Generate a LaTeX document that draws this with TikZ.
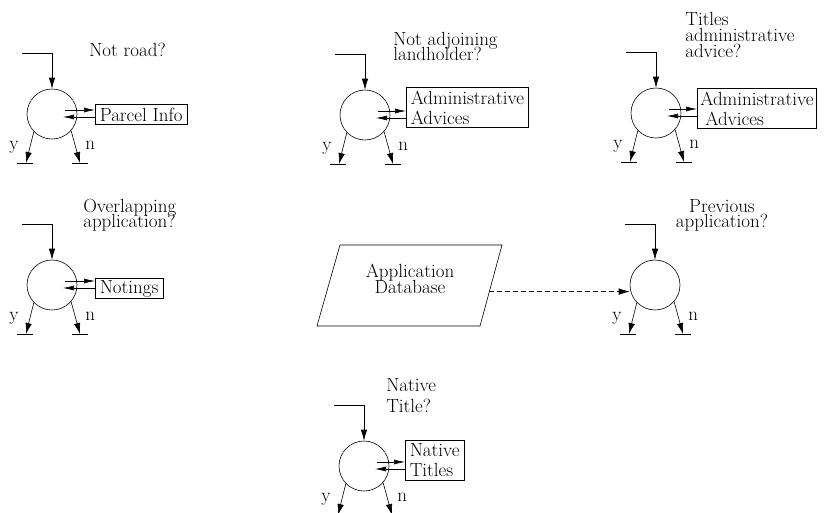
\documentclass[tikz,border=0pt]{standalone}
\usepackage{fontspec}
\usetikzlibrary{arrows.meta,calc}
% exact line spacing inside multi-line labels
\newcommand\tightlines{\lineskiplimit=-30pt\relax}
\begin{document}
\begin{tikzpicture}[x=1pt,y=-1pt,line width=0.6pt,
  dec/.style={circle,draw,minimum size=50pt,inner sep=0pt},
  lbl/.style={inner sep=0pt,anchor=base west,align=left,
    font=\fontsize{19}{#1}\selectfont\tightlines},
  lbl/.default=15,
  clbl/.style={inner sep=0pt,anchor=base,align=center,
    font=\fontsize{19}{#1}\selectfont\tightlines},
  clbl/.default=15,
  store/.style={draw,anchor=west,align=left,inner xsep=4.5pt,inner ysep=3.5pt,
    font=\fontsize{19}{20}\selectfont\tightlines},
  arr/.style={-{Latex[length=11pt,width=6.5pt]}},
  sarr/.style={-{Latex[length=11pt,width=5pt]}},
  flow/.style={dashed,dash pattern=on 5pt off 3pt}]
\useasboundingbox (0,0) rectangle (830,512);

% decision: circle with an incoming line, y/n exits and their ground bars
\newcommand\decblock[3]{%
  \node[dec] (#1) at (#2,#3) {};
  \coordinate (#1in) at ($(#1.north)+(-30,-35)$);
  \draw[arr] (#1in) -| (#1.north);
  \coordinate (#1y) at ($(#1.center)+(-26,49)$);
  \coordinate (#1n) at ($(#1.center)+(28,49)$);
  \draw[arr] (#1.-136) -- (#1y);
  \draw[arr] (#1.-41) -- (#1n);
  \draw ($(#1y)+(-9,0)$) -- ($(#1y)+(7,0)$);
  \draw ($(#1n)+(-8,0)$) -- ($(#1n)+(8,0)$);
  \node[lbl] (#1ylab) at ($(#1.center)+(-43,35)$) {y};
  \node[lbl] (#1nlab) at ($(#1.center)+(33,35)$) {n};
}
% query/answer pair between a decision and its data store
\newcommand\datalink[2]{%
  \path ($(#1.center)+(13,-4)$) coordinate (#1o)
        ($(#1.center)+(11,3)$) coordinate (#1i);
  \draw[sarr] (#1o) -- (#1o -| #2.west);
  \draw[sarr] (#1i -| #2.west) -- (#1i);
}

% not road
\decblock{d1}{52}{114}
\node[lbl] (q1) at (89,56) {Not road?};
\node[store] (s1) at (95,114.5) {Parcel Info};
\datalink{d1}{s1}

% not adjoining landholder
\decblock{d2}{365}{115}
\node[lbl] (q2) at (393,60) {Not adjoining\\landholder?};
\node[store] (s2) at (406,107.5) {Administrative\\Advices};
\datalink{d2}{s2}

% titles administrative advice
\decblock{d3}{656}{113}
\node[lbl=16] (q3) at (685,57) {Titles\\administrative\\advice?};
\node[store,inner xsep=3pt] (s3) at (697,108.5) {Administrative\\\hspace*{5pt}Advices};
\datalink{d3}{s3}

% overlapping application
\decblock{d4}{52}{285}
\node[lbl] (q4) at (83,227) {Overlapping\\application?};
\node[store,inner ysep=1.5pt] (s4) at (95,288.5) {Notings};
\datalink{d4}{s4}

% previous application, fed from the application database
\decblock{d6}{655}{285}
\node[clbl] (q6) at (722,227) {Previous\\application?};

\node[clbl=16] (db) at (410,293) {Application\\Database};
\draw (340,245) coordinate (dbtl) -- (502,245) coordinate (dbtr)
  -- (480,326) coordinate (dbbr) -- (317,326) coordinate (dbbl) -- cycle;
\coordinate (dbr) at ($(dbtr)!0.575!(dbbr)$);
\draw[flow,arr] (dbr) -- (dbr -| d6.west);

% native title
\decblock{d7}{364}{466}
\node[lbl=21] (q7) at (386,412) {Native\\Title?};
\node[store] (s7) at (405,460) {Native\\Titles};
\datalink{d7}{s7}
\end{tikzpicture}
\end{document}
